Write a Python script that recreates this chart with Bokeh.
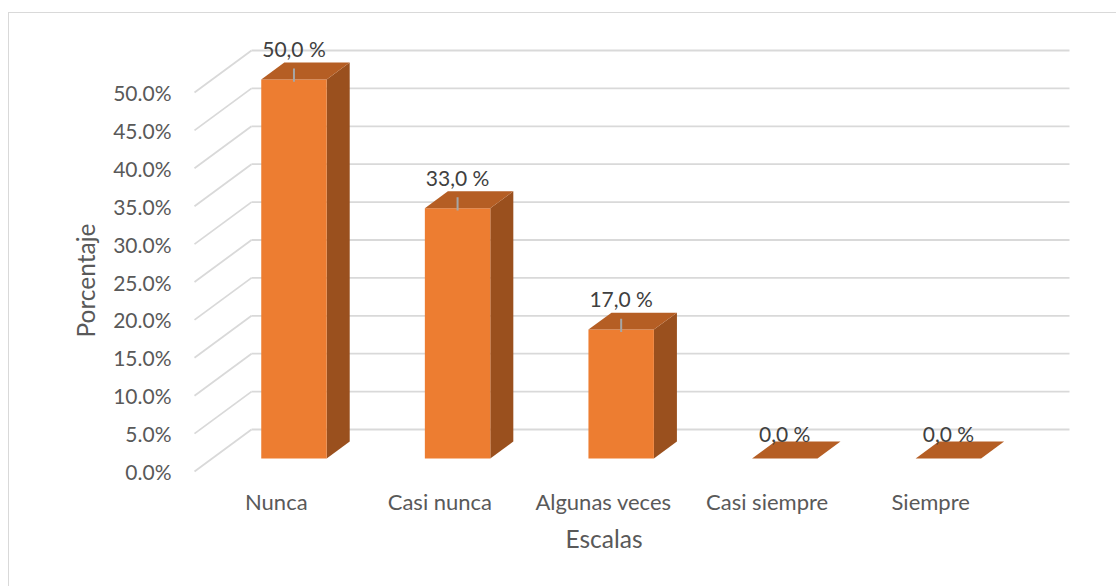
from bokeh.plotting import figure
from bokeh.models import FixedTicker, PrintfTickFormatter, Title, Range1d
from bokeh.embed import file_html
from bokeh.resources import INLINE
from bokeh.core.properties import value

# ---- data ----
categories = ["Nunca", "Casi nunca", "Algunas veces", "Casi siempre", "Siempre"]
percentages = [50.0, 33.0, 17.0, 0.0, 0.0]
y_ticks = [0, 5, 10, 15, 20, 25, 30, 35, 40, 45, 50]

# ---- styling / projection ----
FONT = "Lato"
PX_X = 163.6   # px per category
PX_Y = 7.58    # px per percent
DX = 57 / PX_X  # depth offset (x, data units)
DY = 42 / PX_Y  # depth offset (y, data units)
F1, F2 = 0.31, 0.714  # bar front / back depth fractions
BAR_W = 0.4
FRONT = "#ED7D31"
TOP = "#B55E24"
SIDE = "#9A501E"
GRID = "#D9D9D9"

p = figure(width=1108, height=574, output_backend="svg", toolbar_location=None,
           x_range=Range1d(-3 / PX_X, -3 / PX_X + 882 / PX_X),
           y_range=Range1d(-6 / PX_Y, -6 / PX_Y + 446 / PX_Y),
           min_border_left=182, min_border_right=44, min_border_top=18, min_border_bottom=110)
p.margin = (12, 0, 0, 8)
p.styles = {"border-left": "1px solid #D9D9D9", "border-top": "1px solid #D9D9D9"}
p.outline_line_color = None
p.xgrid.visible = False
p.ygrid.visible = False
p.background_fill_color = "white"
p.border_fill_color = "white"

n = len(categories)

# back wall gridlines and floor diagonals
for t in y_ticks:
    p.line([DX, n + DX], [t + DY, t + DY], line_color=GRID, line_width=1.8)
    p.line([0, DX], [t, t + DY], line_color=GRID, line_width=1.8)

# bars
for i, v in enumerate(percentages):
    x0 = i + 0.5 - BAR_W / 2
    x1 = i + 0.5 + BAR_W / 2
    a1x, a1y = F1 * DX, F1 * DY
    a2x, a2y = F2 * DX, F2 * DY
    if v > 0:
        p.patch([x1 + a1x, x1 + a2x, x1 + a2x, x1 + a1x],
                [a1y, a2y, v + a2y, v + a1y], fill_color=SIDE, line_color=None)
        p.patch([x0 + a1x, x1 + a1x, x1 + a1x, x0 + a1x],
                [a1y, a1y, v + a1y, v + a1y], fill_color=FRONT, line_color=None)
    p.patch([x0 + a1x, x1 + a1x, x1 + a2x, x0 + a2x],
            [v + a1y, v + a1y, v + a2y, v + a2y], fill_color=TOP, line_color=None)
    cx = i + 0.5 + a1x
    if v > 0:
        p.line([cx, cx], [v + a1y - 0.3, v + a1y + 1.45], line_color="#A6A6A6", line_width=2)
        ly = v + a1y + 31 / PX_Y
    else:
        ly = v + a1y + 25 / PX_Y
    p.text(x=[cx], y=[ly], text=[f"{v:.1f}".replace(".", ",") + " %"],
           text_font=value(FONT), text_font_size="21px", text_color="#404040",
           text_align="center", text_baseline="middle")

# axes
p.yaxis.ticker = FixedTicker(ticks=y_ticks)
p.yaxis.formatter = PrintfTickFormatter(format="%.1f%%")
p.yaxis.axis_line_color = None
p.yaxis.major_tick_line_color = None
p.yaxis.minor_tick_line_color = None
p.yaxis.major_tick_out = 0
p.yaxis.major_label_standoff = 20
p.yaxis.major_label_text_font = FONT
p.yaxis.major_label_text_font_size = "21px"
p.yaxis.major_label_text_color = "#595959"

p.xaxis.ticker = FixedTicker(ticks=[i + 0.5 for i in range(n)])
p.xaxis.major_label_overrides = {i + 0.5: c for i, c in enumerate(categories)}
p.xaxis.axis_line_color = None
p.xaxis.major_tick_line_color = None
p.xaxis.minor_tick_line_color = None
p.xaxis.major_tick_out = 0
p.xaxis.major_label_standoff = 10
p.xaxis.major_label_text_font = FONT
p.xaxis.major_label_text_font_size = "22px"
p.xaxis.major_label_text_color = "#595959"

# axis titles (left-aligned with offsets so they centre on the front plane)
p.add_layout(Title(text="Escalas", align="left", offset=374, standoff=8,
                   text_font=FONT, text_font_size="24.5px", text_color="#595959",
                   text_font_style="normal"), "below")
p.add_layout(Title(text="Porcentaje", align="left", offset=140, standoff=22,
                   text_font=FONT, text_font_size="24.5px", text_color="#595959",
                   text_font_style="normal"), "left")

open("out.html", "w").write(file_html(p, INLINE))
